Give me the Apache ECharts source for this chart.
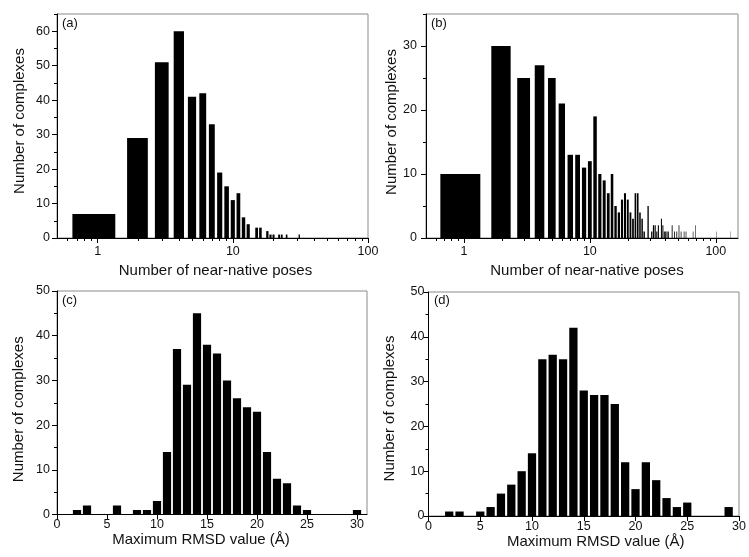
<!DOCTYPE html>
<html>
<head>
<meta charset="utf-8">
<script src="https://cdn.jsdelivr.net/npm/echarts@6/dist/echarts.min.js"></script>
<style>
html,body{margin:0;padding:0;background:#fff;}
#chart{width:749px;height:557px;}
</style>
</head>
<body>
<div id="chart"></div>
<script>
// ---------- data ----------
const aPoses  = [1,2,3,4,5,6,7,8,9,10,11,12,13,15,16,18,19,20,22,23,25,31];
const aCounts = [7,29,51,60,41,42,33,19,15,11,13,6,4,3,3,2,1,1,1,1,1,1];

const bPoses  = [1,2,3,4,5,6,7,8,9,10,11,12,13,14,15,16,17,18,19,20,21,22,23,24,25,26,27,29,31,32,33,34,35,37,38,39,40,41,42,45,47,49,51,53,56,58,66,69,101,131];
const bCounts = [10,30,25,27,25,21,13,13,11,12,19,10,9,7,10,5,4,6,7,6,4,3,7,7,4,3,1,5,1,2,2,1,2,3,2,1,1,1,1,2,1,1,2,1,1,1,1,2,1,1];

const cRmsd   = [2,3,6,8,9,10,11,12,13,14,15,16,17,18,19,20,21,22,23,24,25,30];
const cCounts = [1,2,2,1,1,3,14,37,29,45,38,36,30,26,24,23,14,8,7,2,1,1];

const dRmsd   = [2,3,5,6,7,8,9,10,11,12,13,14,15,16,17,18,19,20,21,22,23,24,25,29];
const dCounts = [1,1,1,2,5,7,10,14,35,36,35,42,28,27,27,25,12,6,12,8,4,2,3,2];

// tick values
const logMajorTicks = [1,10,100];
const logMinorTicks = [0.6,0.7,0.8,0.9,2,3,4,5,6,7,8,9,20,30,40,50,60,70,80,90];
const rmsdMajorTicks = [0,5,10,15,20,25,30];
const yTicksA  = [0,10,20,30,40,50,60];
const yMinorA  = [5,15,25,35,45,55,65];
const yTicksB  = [0,10,20,30];
const yMinorB  = [5,15,25,35];
const yTicksCD = [0,10,20,30,40,50];
const yMinorCD = [5,15,25,35,45];

const panelLabels = ['(a)','(b)','(c)','(d)'];
const xNamePoses = 'Number of near-native poses';
const xNameRmsd  = 'Maximum RMSD value (Å)';
const yName      = 'Number of complexes';

// ---------- layout ----------
const FONT = 'Liberation Sans, Arial, Helvetica, sans-serif';
const panels = [
  {grid:{left:57, top:14, width:311, height:224}, xType:'log', xMin:0.5, xMax:100,
   xMajor:logMajorTicks, xMinor:logMinorTicks, xs:aPoses, ys:aCounts, half:0.35,
   yMax:65, yMajor:yTicksA, yMinor:yMinorA, xName:xNamePoses,
   xLabelMargin:7, yLabelMargin:7, xNameGap:25, yNameGap:30, xNamePad:[0,0,0,6], yNamePad:[0,0,0,10],
   label:{left:62, top:17}},
  {grid:{left:426, top:14, width:312, height:224}, xType:'log', xMin:0.5, xMax:150,
   xMajor:logMajorTicks, xMinor:logMinorTicks, xs:bPoses, ys:bCounts, half:0.35,
   yMax:35, yMajor:yTicksB, yMinor:yMinorB, xName:xNamePoses,
   xLabelMargin:7, yLabelMargin:9, xNameGap:25, yNameGap:27, xNamePad:[0,0,0,10], yNamePad:[0,0,0,8],
   label:{left:431, top:17}},
  {grid:{left:57, top:291, width:310, height:223.5}, xType:'value', xMin:0, xMax:31,
   xMajor:rmsdMajorTicks, xMinor:null, xs:cRmsd, ys:cCounts, half:0.41,
   yMax:50, yMajor:yTicksCD, yMinor:yMinorCD, xName:xNameRmsd,
   xLabelMargin:4, yLabelMargin:7, xNameGap:12, yNameGap:31, xNamePad:[0,22,0,0], yNamePad:[0,13,0,0],
   label:{left:62, top:294}},
  {grid:{left:428.5, top:292, width:310.5, height:224}, xType:'value', xMin:0, xMax:30,
   xMajor:rmsdMajorTicks, xMinor:null, xs:dRmsd, ys:dCounts, half:0.4,
   yMax:50, yMajor:yTicksCD, yMinor:yMinorCD, xName:xNameRmsd,
   xLabelMargin:4.5, yLabelMargin:4, xNameGap:12, yNameGap:31, xNamePad:[0,0,0,24], yNamePad:[0,9,0,0],
   label:{left:434, top:294}}
];

const grids=[], xAxes=[], yAxes=[], series=[], titles=[];
const tickColor = '#000';

panels.forEach((p, i) => {
  grids.push(Object.assign({show:true, borderColor:'#8a8a8a', borderWidth:1, backgroundColor:'transparent', containLabel:false}, p.grid));
  const xMainIdx = xAxes.length;
  xAxes.push({
    gridIndex:i, type:p.xType, min:p.xMin, max:p.xMax, position:'bottom',
    logBase:10,
    name:p.xName, nameLocation:'middle', nameGap:p.xNameGap,
    nameTextStyle:{fontFamily:FONT, fontSize:15, color:'#111', padding:p.xNamePad},
    axisLine:{show:true, onZero:false, lineStyle:{color:'#000', width:1}},
    axisTick:{show:true, inside:false, length:5, customValues:p.xMajor, lineStyle:{color:tickColor, width:1}},
    axisLabel:{show:true, margin:p.xLabelMargin, customValues:p.xMajor, fontFamily:FONT, fontSize:12.5, color:'#111',
               formatter: v => String(Math.round(v*1000)/1000)},
    splitLine:{show:false}, minorTick:{show:false}
  });
  if (p.xMinor) {
    xAxes.push({
      gridIndex:i, type:p.xType, min:p.xMin, max:p.xMax, position:'bottom', logBase:10,
      axisLine:{show:false}, axisLabel:{show:false}, splitLine:{show:false},
      axisTick:{show:true, inside:false, length:3, customValues:p.xMinor, lineStyle:{color:tickColor, width:1}}
    });
  }
  const yMainIdx = yAxes.length;
  yAxes.push({
    gridIndex:i, type:'value', min:0, max:p.yMax, position:'left',
    name:yName, nameLocation:'middle', nameGap:p.yNameGap,
    nameTextStyle:{fontFamily:FONT, fontSize:15, color:'#111', padding:p.yNamePad},
    axisLine:{show:true, onZero:false, lineStyle:{color:'#000', width:1}},
    axisTick:{show:true, inside:false, length:5, customValues:p.yMajor, lineStyle:{color:tickColor, width:1}},
    axisLabel:{show:true, margin:p.yLabelMargin, customValues:p.yMajor, fontFamily:FONT, fontSize:12.5, color:'#111'},
    splitLine:{show:false}
  });
  yAxes.push({
    gridIndex:i, type:'value', min:0, max:p.yMax, position:'left',
    axisLine:{show:false}, axisLabel:{show:false}, splitLine:{show:false},
    axisTick:{show:true, inside:false, length:3, customValues:p.yMinor, lineStyle:{color:tickColor, width:1}}
  });
  const half = p.half;
  series.push({
    type:'custom', xAxisIndex:xMainIdx, yAxisIndex:yMainIdx, clip:true,
    data: p.xs.map((x, k) => [x, p.ys[k]]),
    renderItem: function(params, api) {
      const x = api.value(0), y = api.value(1);
      const p0 = api.coord([x - half, y]);
      const p1 = api.coord([x + half, 0]);
      return {type:'rect', shape:{x:p0[0], y:p0[1], width:p1[0]-p0[0], height:p1[1]-p0[1]},
              style:{fill:'#000', stroke:null}};
    },
    silent:true, animation:false
  });
  titles.push({text:panelLabels[i], left:p.label.left, top:p.label.top, padding:0,
               textStyle:{fontFamily:FONT, fontSize:13, fontWeight:'normal', color:'#111'}});
});

const chart = echarts.init(document.getElementById('chart'), null, {renderer:'canvas'});
chart.setOption({
  animation:false,
  backgroundColor:'#fff',
  title:titles,
  grid:grids,
  xAxis:xAxes,
  yAxis:yAxes,
  series:series
});
</script>
</body>
</html>
